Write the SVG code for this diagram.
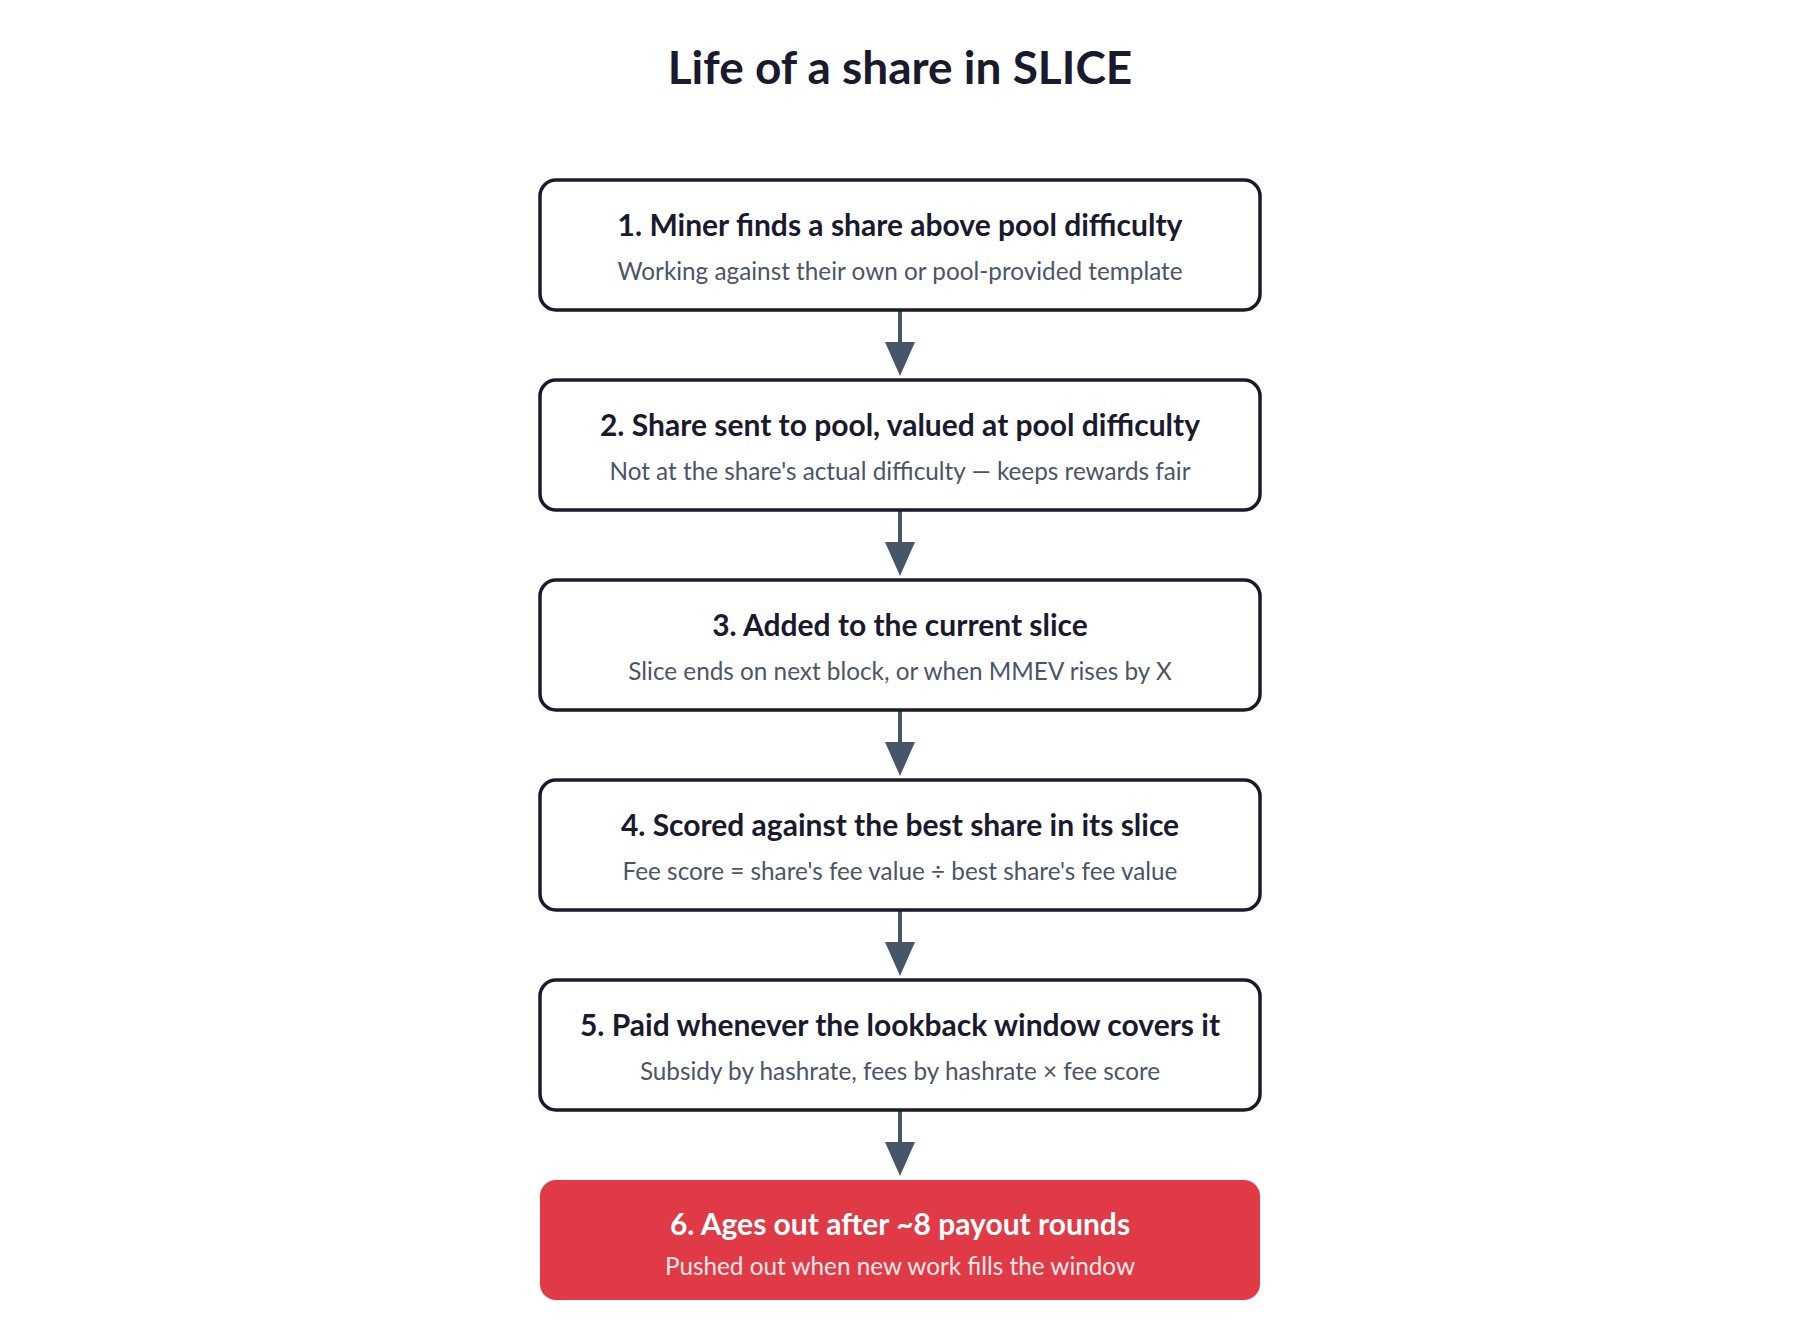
<svg xmlns="http://www.w3.org/2000/svg" width="1800" height="1320" viewBox="0 0 1800 1320">
<defs>
<style>
.box{fill:#ffffff;stroke:#1a1a2e;stroke-width:3.5}
.red{fill:#e03a47}
.h{font-family:"Lato","Noto Sans",sans-serif;font-weight:700;font-size:30px;fill:#1a1a2e;text-anchor:middle}
.s{font-family:"Lato","Noto Sans",sans-serif;font-size:24.3px;fill:#4a5568;text-anchor:middle}
.hw{fill:#ffffff}
.sw{fill:#ffe8ea}
.title{font-family:"Lato","Noto Sans",sans-serif;font-weight:700;font-size:46px;fill:#1a1a2e;text-anchor:middle}
.conn{stroke:#475569;stroke-width:4;fill:none}
.head{fill:#475569}
</style>
</defs>
<rect width="1800" height="1320" fill="#ffffff"/>
<text class="title" x="900" y="84">Life of a share in SLICE</text>
<g id="connectors">
<line class="conn" x1="900" y1="311" x2="900" y2="342"/>
<path class="head" d="M885,342 L915,342 L900,376 Z"/>
<line class="conn" x1="900" y1="511" x2="900" y2="542"/>
<path class="head" d="M885,542 L915,542 L900,576 Z"/>
<line class="conn" x1="900" y1="711" x2="900" y2="742"/>
<path class="head" d="M885,742 L915,742 L900,776 Z"/>
<line class="conn" x1="900" y1="911" x2="900" y2="942"/>
<path class="head" d="M885,942 L915,942 L900,976 Z"/>
<line class="conn" x1="900" y1="1111" x2="900" y2="1142"/>
<path class="head" d="M885,1142 L915,1142 L900,1176 Z"/>
</g>
<g id="node1">
<rect class="box" x="540" y="180" width="720" height="130" rx="16"/>
<text class="h" x="900" y="236">1. Miner finds a share above pool difficulty</text>
<text class="s" x="900" y="280">Working against their own or pool-provided template</text>
</g>
<g id="node2">
<rect class="box" x="540" y="380" width="720" height="130" rx="16"/>
<text class="h" x="900" y="436">2. Share sent to pool, valued at pool difficulty</text>
<text class="s" x="900" y="480">Not at the share's actual difficulty — keeps rewards fair</text>
</g>
<g id="node3">
<rect class="box" x="540" y="580" width="720" height="130" rx="16"/>
<text class="h" x="900" y="636">3. Added to the current slice</text>
<text class="s" x="900" y="680">Slice ends on next block, or when MMEV rises by X</text>
</g>
<g id="node4">
<rect class="box" x="540" y="780" width="720" height="130" rx="16"/>
<text class="h" x="900" y="836">4. Scored against the best share in its slice</text>
<text class="s" x="900" y="880">Fee score = share's fee value ÷ best share's fee value</text>
</g>
<g id="node5">
<rect class="box" x="540" y="980" width="720" height="130" rx="16"/>
<text class="h" x="900" y="1036">5. Paid whenever the lookback window covers it</text>
<text class="s" x="900" y="1080">Subsidy by hashrate, fees by hashrate × fee score</text>
</g>
<g id="node6">
<rect class="red" x="540" y="1180" width="720" height="120" rx="16"/>
<text class="h hw" x="900" y="1235">6. Ages out after ~8 payout rounds</text>
<text class="s sw" x="900" y="1275">Pushed out when new work fills the window</text>
</g>
</svg>
